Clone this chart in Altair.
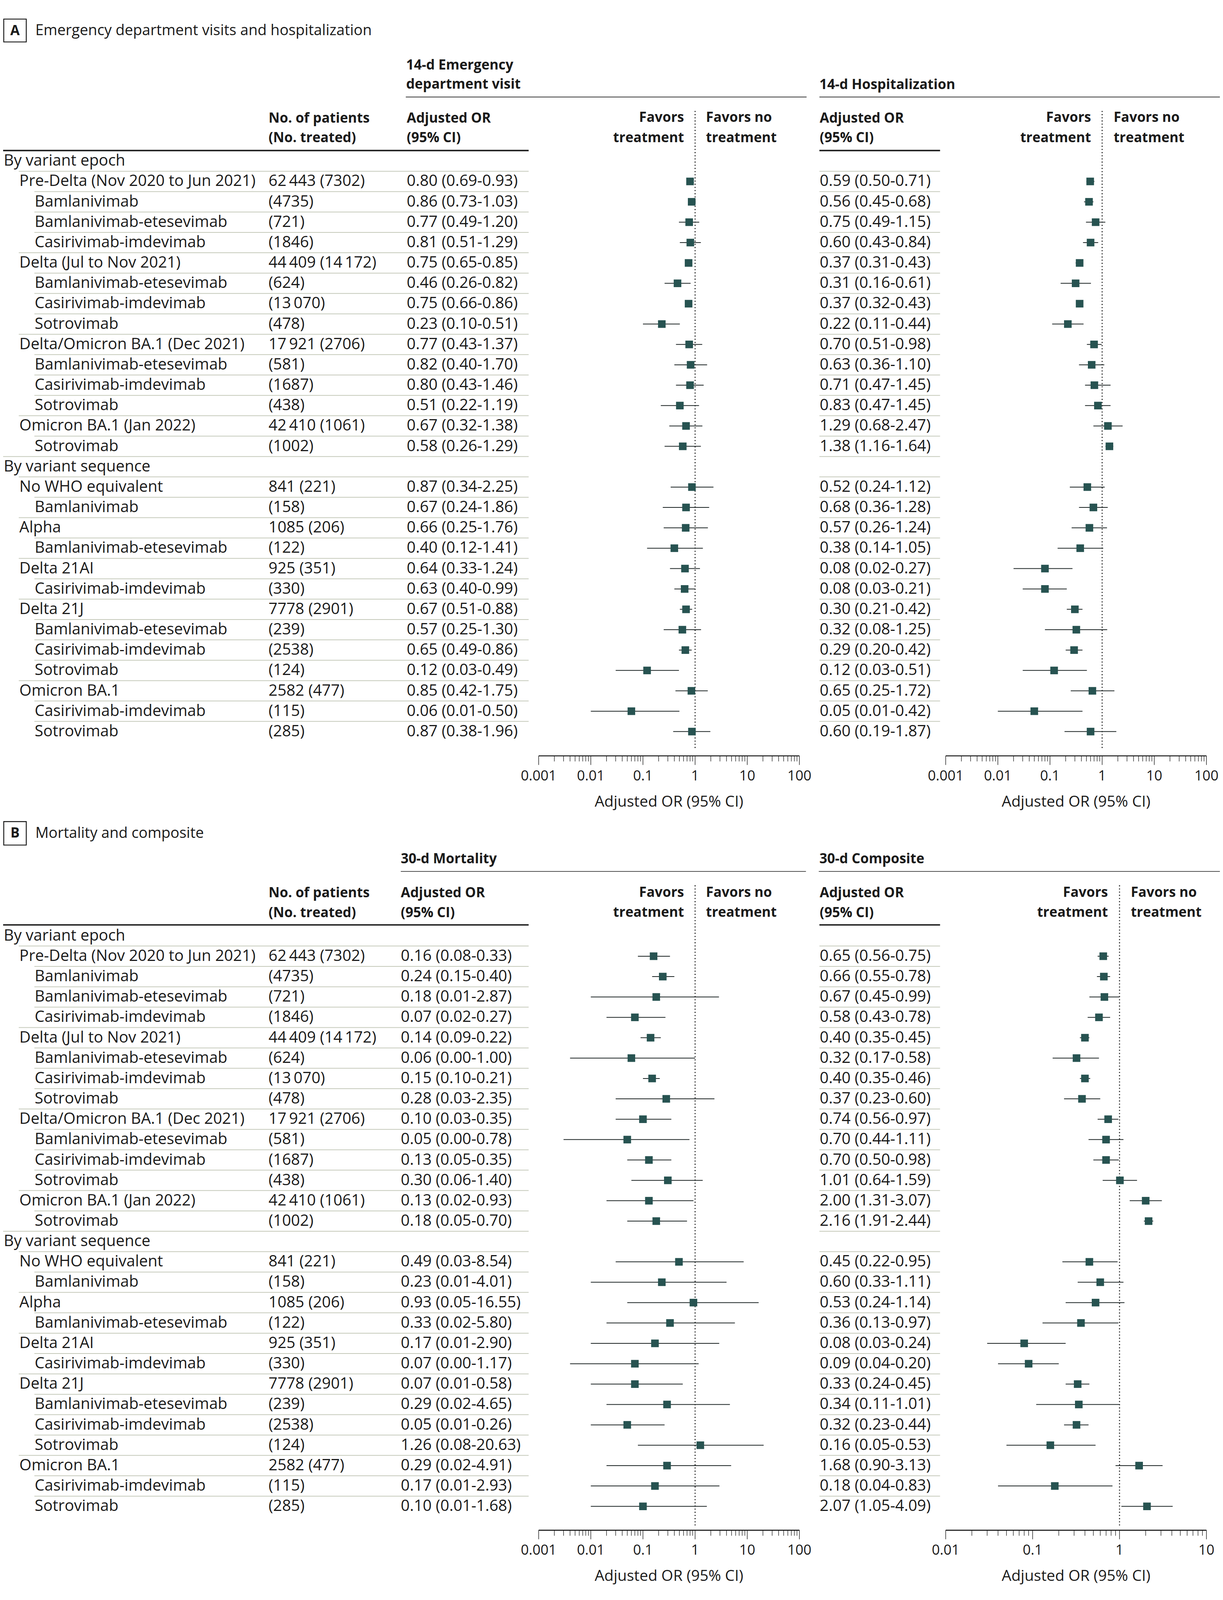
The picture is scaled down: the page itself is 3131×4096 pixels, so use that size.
import altair as alt

W, H = 3115, 4080
SX = W / 3892
SY = H / 5092


def px(v):
    return v * SX


def py(v):
    return v * SY


FONT = "Open Sans"
INK = "#1a1a1a"
TEAL = "#275351"
SEP = "#c6cabb"
BODY = 40
HEAD = 35
TICK = 36
AXT = 39
TITLE = 38
ONE = alt.Data(values=[{"k": 1}])

# ---------------- data ----------------
labels = [
    "By variant epoch",
    "Pre-Delta (Nov 2020 to Jun 2021)", "Bamlanivimab", "Bamlanivimab-etesevimab", "Casirivimab-imdevimab",
    "Delta (Jul to Nov 2021)", "Bamlanivimab-etesevimab", "Casirivimab-imdevimab", "Sotrovimab",
    "Delta/Omicron BA.1 (Dec 2021)", "Bamlanivimab-etesevimab", "Casirivimab-imdevimab", "Sotrovimab",
    "Omicron BA.1 (Jan 2022)", "Sotrovimab",
    "By variant sequence",
    "No WHO equivalent", "Bamlanivimab",
    "Alpha", "Bamlanivimab-etesevimab",
    "Delta 21AI", "Casirivimab-imdevimab",
    "Delta 21J", "Bamlanivimab-etesevimab", "Casirivimab-imdevimab", "Sotrovimab",
    "Omicron BA.1", "Casirivimab-imdevimab", "Sotrovimab",
]
levels = [0, 1, 2, 2, 2, 1, 2, 2, 2, 1, 2, 2, 2, 1, 2,
          0, 1, 2, 1, 2, 1, 2, 1, 2, 2, 2, 1, 2, 2]
patients = [
    "", "62\u2009443 (7302)", "(4735)", "(721)", "(1846)",
    "44\u2009409 (14\u2009172)", "(624)", "(13\u2009070)", "(478)",
    "17\u2009921 (2706)", "(581)", "(1687)", "(438)",
    "42\u2009410 (1061)", "(1002)",
    "", "841 (221)", "(158)", "1085 (206)", "(122)", "925 (351)", "(330)",
    "7778 (2901)", "(239)", "(2538)", "(124)", "2582 (477)", "(115)", "(285)",
]

ed_or = [None, 0.80, 0.86, 0.77, 0.81, 0.75, 0.46, 0.75, 0.23, 0.77, 0.82, 0.80, 0.51, 0.67, 0.58,
         None, 0.87, 0.67, 0.66, 0.40, 0.64, 0.63, 0.67, 0.57, 0.65, 0.12, 0.85, 0.06, 0.87]
ed_lo = [None, 0.69, 0.73, 0.49, 0.51, 0.65, 0.26, 0.66, 0.10, 0.43, 0.40, 0.43, 0.22, 0.32, 0.26,
         None, 0.34, 0.24, 0.25, 0.12, 0.33, 0.40, 0.51, 0.25, 0.49, 0.03, 0.42, 0.01, 0.38]
ed_hi = [None, 0.93, 1.03, 1.20, 1.29, 0.85, 0.82, 0.86, 0.51, 1.37, 1.70, 1.46, 1.19, 1.38, 1.29,
         None, 2.25, 1.86, 1.76, 1.41, 1.24, 0.99, 0.88, 1.30, 0.86, 0.49, 1.75, 0.50, 1.96]

hosp_or = [None, 0.59, 0.56, 0.75, 0.60, 0.37, 0.31, 0.37, 0.22, 0.70, 0.63, 0.71, 0.83, 1.29, 1.38,
           None, 0.52, 0.68, 0.57, 0.38, 0.08, 0.08, 0.30, 0.32, 0.29, 0.12, 0.65, 0.05, 0.60]
hosp_lo = [None, 0.50, 0.45, 0.49, 0.43, 0.31, 0.16, 0.32, 0.11, 0.51, 0.36, 0.47, 0.47, 0.68, 1.16,
           None, 0.24, 0.36, 0.26, 0.14, 0.02, 0.03, 0.21, 0.08, 0.20, 0.03, 0.25, 0.01, 0.19]
hosp_hi = [None, 0.71, 0.68, 1.15, 0.84, 0.43, 0.61, 0.43, 0.44, 0.98, 1.10, 1.45, 1.45, 2.47, 1.64,
           None, 1.12, 1.28, 1.24, 1.05, 0.27, 0.21, 0.42, 1.25, 0.42, 0.51, 1.72, 0.42, 1.87]

mort_or = [None, 0.16, 0.24, 0.18, 0.07, 0.14, 0.06, 0.15, 0.28, 0.10, 0.05, 0.13, 0.30, 0.13, 0.18,
           None, 0.49, 0.23, 0.93, 0.33, 0.17, 0.07, 0.07, 0.29, 0.05, 1.26, 0.29, 0.17, 0.10]
mort_lo = [None, 0.08, 0.15, 0.01, 0.02, 0.09, 0.004, 0.10, 0.03, 0.03, 0.003, 0.05, 0.06, 0.02, 0.05,
           None, 0.03, 0.01, 0.05, 0.02, 0.01, 0.004, 0.01, 0.02, 0.01, 0.08, 0.02, 0.01, 0.01]
mort_hi = [None, 0.33, 0.40, 2.87, 0.27, 0.22, 1.00, 0.21, 2.35, 0.35, 0.78, 0.35, 1.40, 0.93, 0.70,
           None, 8.54, 4.01, 16.55, 5.80, 2.90, 1.17, 0.58, 4.65, 0.26, 20.63, 4.91, 2.93, 1.68]

comp_or = [None, 0.65, 0.66, 0.67, 0.58, 0.40, 0.32, 0.40, 0.37, 0.74, 0.70, 0.70, 1.01, 2.00, 2.16,
           None, 0.45, 0.60, 0.53, 0.36, 0.08, 0.09, 0.33, 0.34, 0.32, 0.16, 1.68, 0.18, 2.07]
comp_lo = [None, 0.56, 0.55, 0.45, 0.43, 0.35, 0.17, 0.35, 0.23, 0.56, 0.44, 0.50, 0.64, 1.31, 1.91,
           None, 0.22, 0.33, 0.24, 0.13, 0.03, 0.04, 0.24, 0.11, 0.23, 0.05, 0.90, 0.04, 1.05]
comp_hi = [None, 0.75, 0.78, 0.99, 0.78, 0.45, 0.58, 0.46, 0.60, 0.97, 1.11, 0.98, 1.59, 3.07, 2.44,
           None, 0.95, 1.11, 1.14, 0.97, 0.24, 0.20, 0.45, 1.01, 0.44, 0.53, 3.13, 0.83, 4.09]

ticks_wide = [0.001, 0.01, 0.1, 1, 10, 100]
ticks_wide_lab = ["0.001", "0.01", "0.1", "1", "10", "100"]
ticks_narrow = [0.01, 0.1, 1, 10]
ticks_narrow_lab = ["0.01", "0.1", "1", "10"]


def minor_ticks(decades):
    return [round(k * d, 6) for d in decades for k in range(2, 10)]


def frame(o, lo, hi):
    recs = []
    for i in range(len(labels)):
        has = o[i] is not None
        recs.append({
            "row": i, "label": labels[i], "level": levels[i], "n": patients[i],
            "o": o[i], "lo": lo[i], "hi": hi[i],
            "txt": f"{o[i]:.2f} ({lo[i]:.2f}-{hi[i]:.2f})" if has else "",
        })
    return recs


# ---------------- helpers ----------------
ROW0 = {"A": 504.6, "B": 2980.0}
STEP = 65.1


def yenc(panel, field="row"):
    return alt.Y(f"{field}:Q", axis=None,
                 scale=alt.Scale(domain=[0, 28],
                                 range=[py(ROW0[panel]), py(ROW0[panel] + 28 * STEP)],
                                 nice=False, zero=False))


def text(t, x, y, size=BODY, weight="normal", align="left"):
    return alt.Chart(ONE).mark_text(
        text=t, font=FONT, fontSize=size, fontWeight=weight, align=align,
        baseline="middle", color=INK
    ).encode(x=alt.value(px(x)), y=alt.value(py(y)))


def hline(x1, x2, y, w, color=INK):
    return alt.Chart(ONE).mark_rule(strokeWidth=w, color=color).encode(
        x=alt.value(px(x1)), x2=alt.value(px(x2)), y=alt.value(py(y)))


def box(x1, x2, y1, y2):
    return alt.Chart(ONE).mark_rect(fillOpacity=0, stroke=INK, strokeWidth=2.4).encode(
        x=alt.value(px(x1)), x2=alt.value(px(x2)), y=alt.value(py(y1)), y2=alt.value(py(y2)))


def table(panel, recs1, recs2, or1_x, or2_x=2612):
    d1 = alt.Data(values=recs1)
    d2 = alt.Data(values=recs2)
    L = []
    for lvl, x0 in [(0, 0), (1, 50), (2, 100)]:
        L.append(alt.Chart(d1).transform_filter(f"datum.row > 0 && datum.level == {lvl}")
                 .transform_calculate(sep="datum.row - 0.5")
                 .mark_rule(strokeWidth=2, color=SEP)
                 .encode(x=alt.value(px(x0)), x2=alt.value(px(1681)), y=yenc(panel, "sep")))
    L.append(alt.Chart(d2).transform_filter("datum.row > 0")
             .transform_calculate(sep="datum.row - 0.5")
             .mark_rule(strokeWidth=2, color=SEP)
             .encode(x=alt.value(px(2611)), x2=alt.value(px(2997)), y=yenc(panel, "sep")))
    for lvl, x0 in [(0, 2), (1, 52), (2, 101)]:
        L.append(alt.Chart(d1).transform_filter(f"datum.level == {lvl}")
                 .mark_text(align="left", baseline="middle", font=FONT, fontSize=BODY, color=INK)
                 .encode(x=alt.value(px(x0)), y=yenc(panel), text="label:N"))
    L.append(alt.Chart(d1).mark_text(align="left", baseline="middle", font=FONT, fontSize=BODY, color=INK)
             .encode(x=alt.value(px(849)), y=yenc(panel), text="n:N"))
    L.append(alt.Chart(d1).mark_text(align="left", baseline="middle", font=FONT, fontSize=BODY, color=INK)
             .encode(x=alt.value(px(or1_x)), y=yenc(panel), text="txt:N"))
    L.append(alt.Chart(d2).mark_text(align="left", baseline="middle", font=FONT, fontSize=BODY, color=INK)
             .encode(x=alt.value(px(or2_x)), y=yenc(panel), text="txt:N"))
    return L


def forest(recs, panel, dom, xr, dot, axy, majors, major_labels, minors, fav_r, fav_l, head_y):
    xs = alt.Scale(type="log", domain=dom, range=[px(xr[0]), px(xr[1])], nice=False)
    data = alt.Data(values=recs)
    Y = yenc(panel)
    L = []
    L.append(alt.Chart(ONE).mark_rule(strokeDash=[0.1, 8], strokeCap="round", strokeWidth=3, color=INK)
             .encode(x=alt.XDatum(datum=1, scale=xs, axis=None),
                     y=alt.value(py(dot[0])), y2=alt.value(py(dot[1]))))
    L.append(alt.Chart(data).transform_filter("datum.o != null")
             .mark_rule(strokeWidth=2, color="#1c2424")
             .encode(x=alt.X("lo:Q", scale=xs, axis=None), x2="hi:Q", y=Y))
    L.append(alt.Chart(data).transform_filter("datum.o != null")
             .mark_square(size=380, color=TEAL, opacity=1)
             .encode(x=alt.X("o:Q", scale=xs, axis=None), y=Y))
    # axis line
    L.append(alt.Chart(ONE).mark_rule(strokeWidth=2.6, color=INK)
             .encode(x=alt.XDatum(datum=dom[0], scale=xs, axis=None), x2=alt.X2Datum(datum=dom[1]),
                     y=alt.value(py(axy))))
    maj = alt.Data(values=[{"v": v, "t": t} for v, t in zip(majors, major_labels)])
    mnr = alt.Data(values=[{"v": v} for v in minors])
    L.append(alt.Chart(maj).mark_rule(strokeWidth=1.4, color=INK)
             .encode(x=alt.X("v:Q", scale=xs, axis=None),
                     y=alt.value(py(axy)), y2=alt.value(py(axy + 29))))
    L.append(alt.Chart(mnr).mark_rule(strokeWidth=1.3, color=INK)
             .encode(x=alt.X("v:Q", scale=xs, axis=None),
                     y=alt.value(py(axy)), y2=alt.value(py(axy + 17.7))))
    L.append(alt.Chart(maj).mark_text(font=FONT, fontSize=TICK, baseline="middle", align="center", color=INK)
             .encode(x=alt.X("v:Q", scale=xs, axis=None), y=alt.value(py(axy + 65)), text="t:N"))
    L.append(text("Adjusted OR (95% CI)", (xr[0] + xr[1]) / 2, axy + 147, AXT, "normal", "center"))
    L.append(text("Favors", fav_r, head_y[0], HEAD, "bold", "right"))
    L.append(text("treatment", fav_r, head_y[1], HEAD, "bold", "right"))
    L.append(text("Favors no", fav_l, head_y[0], HEAD, "bold", "left"))
    L.append(text("treatment", fav_l, head_y[1], HEAD, "bold", "left"))
    return L


edA = frame(ed_or, ed_lo, ed_hi)
hoA = frame(hosp_or, hosp_lo, hosp_hi)
moB = frame(mort_or, mort_lo, mort_hi)
coB = frame(comp_or, comp_lo, comp_hi)

minor_wide = minor_ticks([0.001, 0.01, 0.1, 1, 10])
minor_narrow = minor_ticks([0.01, 0.1, 1])

layers = []
# ---------- Panel A ----------
layers += [
    box(2, 74, 51, 124),
    text("A", 38, 88, HEAD, "bold", "center"),
    text("Emergency department visits and hospitalization", 103, 89, TITLE),
    text("14-d Emergency", 1289, 199, HEAD, "bold"),
    text("department visit", 1289, 259, HEAD, "bold"),
    hline(1288, 2570, 300, 1.6),
    text("14-d Hospitalization", 2611, 261, HEAD, "bold"),
    hline(2611, 3892, 300, 1.6),
    text("No. of patients", 849, 368, HEAD, "bold"),
    text("(No. treated)", 849, 431, HEAD, "bold"),
    text("Adjusted OR", 1291, 368, HEAD, "bold"),
    text("(95% CI)", 1291, 431, HEAD, "bold"),
    text("Adjusted OR", 2612, 368, HEAD, "bold"),
    text("(95% CI)", 2612, 431, HEAD, "bold"),
    hline(0, 1681, 471, 3.6),
    hline(2611, 2997, 471, 3.6),
]
layers += table("A", edA, hoA, 1291)
layers += forest(edA, "A", [0.001, 100], [1713, 2547], [346, 2388], 2405,
                 ticks_wide, ticks_wide_lab, minor_wide, 2178, 2248, (366, 431))
layers += forest(hoA, "A", [0.001, 100], [3015, 3849], [346, 2388], 2405,
                 ticks_wide, ticks_wide_lab, minor_wide, 3480, 3552, (366, 431))

# ---------- Panel B ----------
layers += [
    box(2, 74, 2615, 2690),
    text("B", 38, 2652, HEAD, "bold", "center"),
    text("Mortality and composite", 103, 2653, TITLE),
    text("30-d Mortality", 1272, 2735, HEAD, "bold"),
    hline(1272, 2568, 2774, 1.6),
    text("30-d Composite", 2611, 2735, HEAD, "bold"),
    hline(2609, 3892, 2774, 1.6),
    text("No. of patients", 849, 2843, HEAD, "bold"),
    text("(No. treated)", 849, 2907, HEAD, "bold"),
    text("Adjusted OR", 1272, 2843, HEAD, "bold"),
    text("(95% CI)", 1272, 2907, HEAD, "bold"),
    text("Adjusted OR", 2612, 2843, HEAD, "bold"),
    text("(95% CI)", 2612, 2907, HEAD, "bold"),
    hline(0, 1681, 2945, 3.6),
    hline(2611, 2997, 2945, 3.6),
]
layers += table("B", moB, coB, 1272)
layers += forest(moB, "B", [0.001, 100], [1713, 2547], [2820, 4863], 4879,
                 ticks_wide, ticks_wide_lab, minor_wide, 2178, 2248, (2842, 2905))
layers += forest(coB, "B", [0.01, 10], [3015, 3849], [2820, 4863], 4879,
                 ticks_narrow, ticks_narrow_lab, minor_narrow, 3534, 3607, (2842, 2905))

chart = alt.layer(*layers).resolve_scale(x="independent", y="independent").properties(
    width=W, height=H, autosize=alt.AutoSizeParams(type="none"), padding=0, background="white"
).configure_view(stroke="transparent")

chart.save("out.html", embed_options={"renderer": "svg", "actions": False})
